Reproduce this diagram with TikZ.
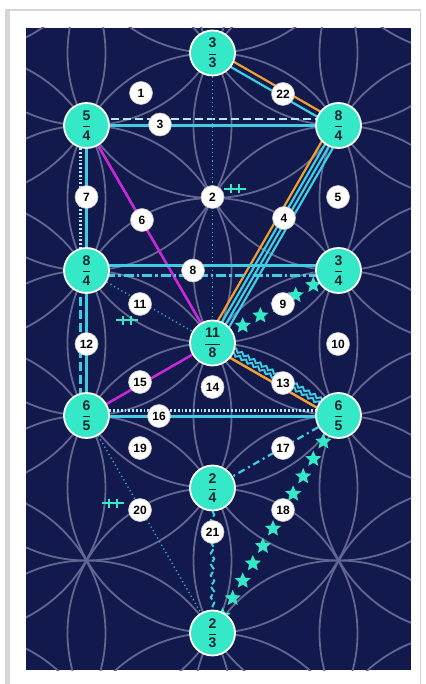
\documentclass[tikz,border=0pt]{standalone}
\usepackage{amsmath}
\usepackage{fontspec}
\setmainfont{Liberation Sans}
\usepackage{tikz}
\usetikzlibrary{calc,shapes.geometric,decorations.pathmorphing}
\definecolor{treenavy}{RGB}{17,25,77}
\definecolor{treepetal}{RGB}{98,102,145}
\definecolor{treeteal}{RGB}{52,232,200}
\definecolor{treecyan}{RGB}{62,206,226}
\definecolor{treepale}{RGB}{175,236,240}
\definecolor{treeorange}{RGB}{240,160,48}
\definecolor{treemagenta}{RGB}{200,40,215}
\definecolor{treeink}{RGB}{22,38,48}
\definecolor{treegray}{RGB}{196,196,196}
\pgfdeclarelayer{back}
\pgfdeclarelayer{links}
\pgfsetlayers{back,links,main}
\newcommand{\frc}[2]{$\dfrac{\textbf{#1}}{\textbf{#2}}$}
\newcommand{\offlink}[4]{\draw[#1] ($(#2)!#4!90:(#3)$) -- ($(#3)!#4!-90:(#2)$);}
\tikzset{
  sefira/.style={circle,fill=treeteal,draw=white,line width=1.8pt,minimum size=45pt,
    inner sep=0pt,text=treeink,font=\fontsize{14}{14}\selectfont},
  pathno/.style={circle,fill=white,draw=treegray,line width=0.6pt,minimum size=23pt,
    inner sep=0pt,text=black,font=\bfseries\fontsize{12}{12}\selectfont},
  starmark/.style={star,star points=5,star point ratio=2.2,fill=treeteal,
    minimum size=17pt,inner sep=0pt},
  solidlink/.style={treecyan,line width=2.2pt},
  orangelink/.style={treeorange,line width=2.2pt},
  magentalink/.style={treemagenta,line width=2.2pt},
  thindots/.style={treecyan!80!treenavy,line width=1.4pt,dash pattern=on 1.2pt off 3pt},
  wavylink/.style={treecyan,line width=1.9pt,decorate,
    decoration={snake,amplitude=1.5pt,segment length=7pt}}
}
\begin{document}
\begin{tikzpicture}[x=1pt,y=-1pt]
  \useasboundingbox (0,0) rectangle (425,684);

  % sefirot
  \node[sefira] (kether)    at (212.5,53)  {\frc{3}{3}};
  \node[sefira] (chokmah)   at (338.5,125.5) {\frc{8}{4}};
  \node[sefira] (binah)     at (86.5,125.5)  {\frc{5}{4}};
  \node[sefira] (chesed)    at (338.5,270.5) {\frc{3}{4}};
  \node[sefira] (geburah)   at (86.5,270.5)  {\frc{8}{4}};
  \node[sefira] (tiphareth) at (212.5,343) {\frc{11}{8}};
  \node[sefira] (netzach)   at (338.5,415.5) {\frc{6}{5}};
  \node[sefira] (hod)       at (86.5,415.5)  {\frc{6}{5}};
  \node[sefira] (yesod)     at (212.5,488) {\frc{2}{4}};
  \node[sefira] (malkuth)   at (212.5,633) {\frc{2}{3}};

  % path numbers
  \foreach \n/\x/\y in {1/141/93,2/212.5/197,3/160/124.5,4/284/218,5/338/197,6/142/220,
      7/86.5/197,8/193/270.5,9/283/304,10/338/344,11/140/304,12/86.5/344,13/283/383,
      14/212.5/387,15/140/382,16/159/416,17/283/448,18/283/510,19/140/448,20/140/510,
      21/212.5/532,22/283/94}
    \node[pathno] (p\n) at (\x,\y) {\n};

  \begin{pgfonlayer}{back}
    \fill[white] (0,0) rectangle (425,684);
    \fill[treegray!70] (5,9) rectangle (421,684);
    \fill[white] (10,11) rectangle (420,684);
    \fill[treenavy] (26,28) rectangle (411,670);
    \begin{scope}
      \clip (26,28) rectangle (411,670);
      \foreach \k in {-2,...,2}
        \foreach \m in {-1,...,5} {
          \pgfmathsetmacro\cx{212.5+\k*126}
          \pgfmathsetmacro\cy{53+\m*145+mod(abs(\k),2)*72.5}
          \draw[treepetal,line width=1.8pt] (\cx,\cy) circle[radius=145pt];
        }
    \end{scope}
  \end{pgfonlayer}

  \begin{pgfonlayer}{links}
    \offlink{orangelink}{kether}{chokmah}{3pt}
    \offlink{solidlink}{kether}{chokmah}{-3pt}
    \offlink{treepale,line width=2.2pt,dash pattern=on 8pt off 4pt}{binah}{chokmah}{6.5pt}
    \draw[solidlink] (binah) -- (chokmah);
    \offlink{treepale,line width=2.4pt,dash pattern=on 1.8pt off 2pt}{binah}{geburah}{-6pt}
    \draw[solidlink] (binah) -- (geburah);
    \offlink{orangelink}{chokmah}{tiphareth}{-6.5pt}
    \foreach \o in {-2.2pt,2.1pt,6.4pt}
      \offlink{solidlink}{chokmah}{tiphareth}{\o}
    \draw[magentalink] (binah) -- (tiphareth);
    \draw[thindots] (kether) -- (tiphareth);
    \offlink{solidlink}{geburah}{chesed}{5pt}
    \offlink{solidlink,dash pattern=on 10pt off 3pt on 2.5pt off 3pt}{geburah}{chesed}{-5pt}
    \draw[thindots] (geburah) -- (tiphareth);
    \offlink{treecyan,line width=2.2pt,dash pattern=on 9pt off 4pt}{geburah}{hod}{-6pt}
    \draw[solidlink] (geburah) -- (hod);
    \foreach \o in {1pt,5.5pt}
      \offlink{wavylink}{tiphareth}{netzach}{\o}
    \offlink{orangelink}{tiphareth}{netzach}{-4pt}
    \draw[magentalink] (hod) -- (tiphareth);
    \offlink{treepale,line width=2.4pt,dash pattern=on 1.8pt off 2pt}{hod}{netzach}{5pt}
    \offlink{solidlink}{hod}{netzach}{-1pt}
    \draw[solidlink,dash pattern=on 7pt off 4pt on 2pt off 4pt] (netzach) -- (yesod);
    \draw[thindots] (hod) -- (malkuth);
    \draw[treecyan,line width=2pt,dash pattern=on 6pt off 3pt,decorate,
      decoration={snake,amplitude=1.8pt,segment length=11pt}] (yesod) -- (malkuth);
    % star chains
    \foreach \t in {0.2,0.34,0.48,0.62,0.76}
      \node[starmark] (s9-\t) at ($(chesed)!\t!(tiphareth)$) {};
    \foreach \t in {0.12,0.2,...,0.93}
      \node[starmark] (s18-\t) at ($(netzach)!\t!(malkuth)$) {};
    % tick marks
    \foreach \mx/\my in {235/189,127/320,113/503}
      \draw[treeteal,line width=1.8pt] (\mx-11,\my) -- (\mx+11,\my)
        (\mx-4,\my-4.5) -- (\mx-4,\my+4.5) (\mx+4,\my-4.5) -- (\mx+4,\my+4.5);
  \end{pgfonlayer}
\end{tikzpicture}
\end{document}
